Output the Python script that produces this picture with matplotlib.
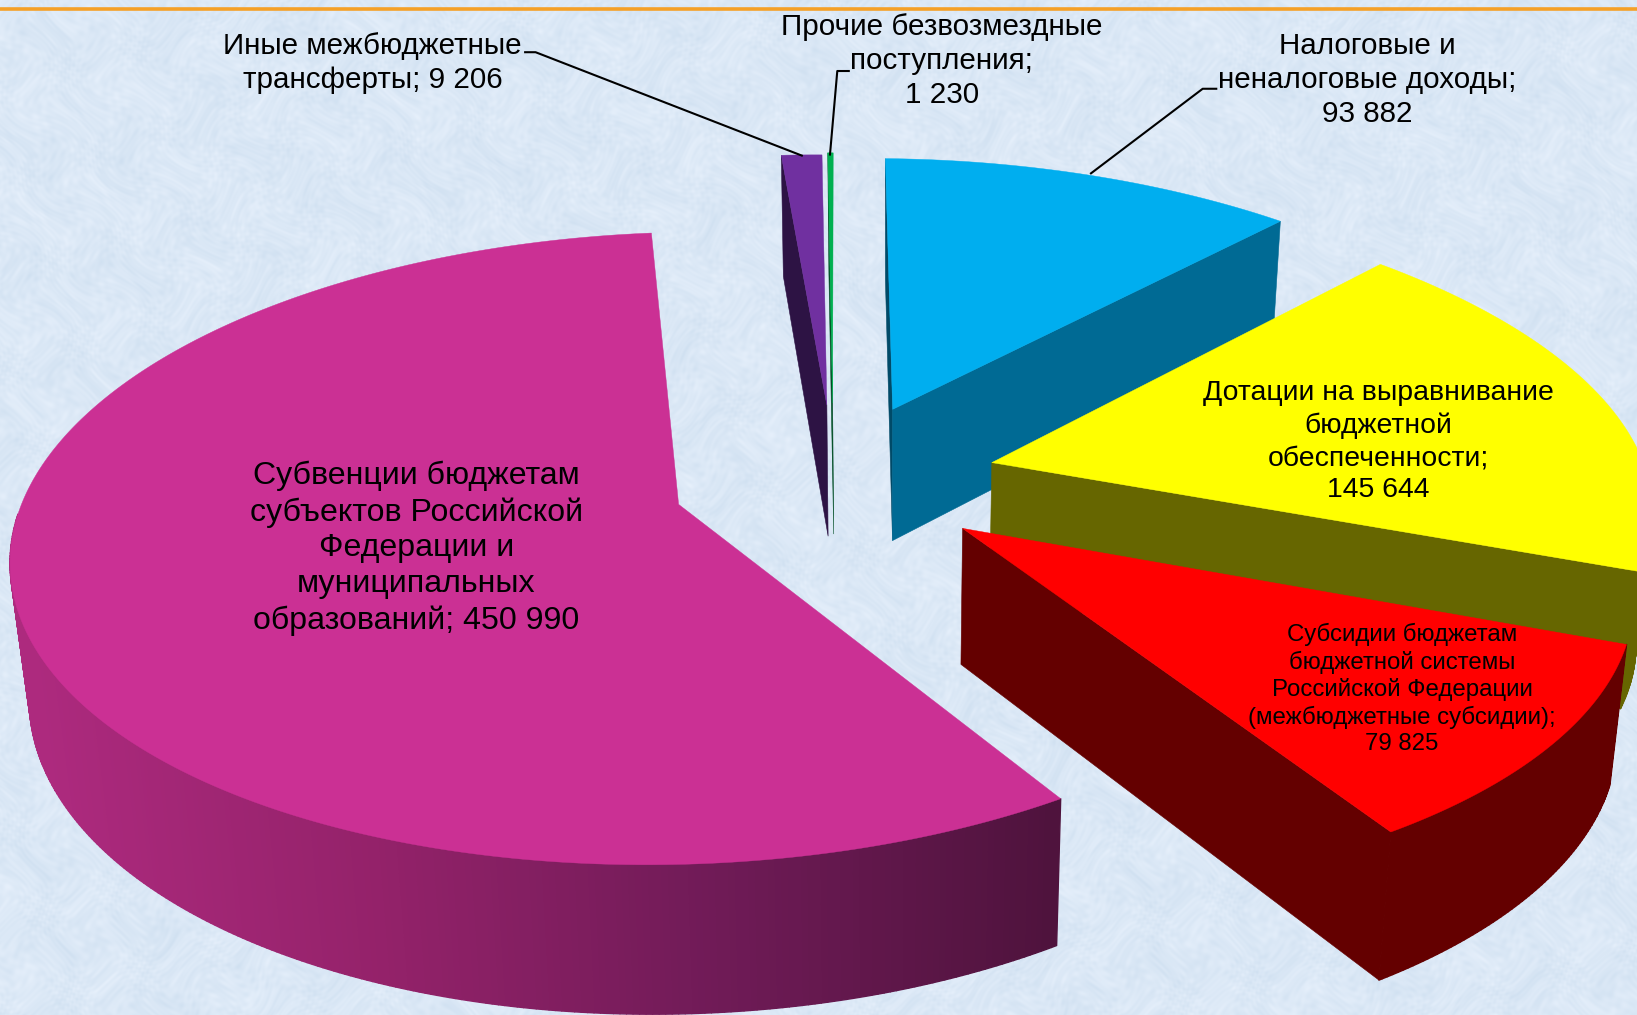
"""3D exploded pie of budget revenue, drawn on a pixel-like canvas."""
import numpy as np
import matplotlib
matplotlib.use("Agg")
import matplotlib.pyplot as plt
from matplotlib.collections import PolyCollection
from matplotlib.colors import LinearSegmentedColormap
from matplotlib.patches import Polygon

plt.rcParams["font.family"] = ["Liberation Sans", "DejaVu Sans"]

# data, clockwise from the top of the pie
categories = ["Налоговые и неналоговые доходы", "Дотации на выравнивание",
              "Субсидии", "Субвенции", "Иные межбюджетные трансферты",
              "Прочие безвозмездные поступления"]
values = [93882, 145644, 79825, 450990, 9206, 1230]
label_texts = [
    "Налоговые и\nненалоговые доходы;\n93 882",
    "Дотации на выравнивание\nбюджетной\nобеспеченности;\n145 644",
    "Субсидии бюджетам\nбюджетной системы\nРоссийской Федерации\n(межбюджетные субсидии);\n79 825",
    "Субвенции бюджетам\nсубъектов Российской\nФедерации и\nмуниципальных\nобразований; 450 990",
    "Иные межбюджетные\nтрансферты; 9 206",
    "Прочие безвозмездные\nпоступления;\n1 230",
]

# layout: canvas is the reference at 1568 wide
W, H = 1568, 972
ROTATION = 1.4
# apex x, apex y, rx, ry, perspective k, x shear, y tilt
GEOM = [
    (855, 392, 635, 293, 0.22, -24, 0),
    (950, 443, 624, 275, 0.042, -78, 0),
    (922, 506, 624, 273, 0.232, -5, 0),
    (650, 483, 633, 297, 0.139, 8, 10),
    (792, 388, 600, 273, 0.139, -14, 0),
    (797.5, 386, 600, 273, 0.139, -14, 0),
]
TOP_COLORS = ["#00aeef", "#ffff00", "#ff0000", "#cb3094", "#7030a0", "#00b050"]
CUT_COLORS = ["#006a94", "#666600", "#640000", "#4f133d", "#2d1344", "#006a30"]
START_COLORS = ["#004a68", "#666600", "#640000", "#4f133d", "#2d1344", "#004d24"]
SHOW_START = [True, False, False, False, True, True]
SHOW_END = [True, True, True, False, False, False]
# x, y, size, line spacing
LABEL_POS = [
    (1310, 76.5, 21.3, 1.27),
    (1320, 423, 20.4, 1.298),
    (1343, 660, 17.3, 1.25),
    (399, 525, 23.1, 1.25),
    (357, 60, 21.3, 1.27),
    (902, 58, 21.3, 1.27),
]
LEADERS = [
    ([1165, 1152, 1045], [85, 85, 166]),
    ([503, 513, 768], [50, 50, 149]),
    ([813, 802, 795], [68, 68, 148]),
]
RIM_CMAP = LinearSegmentedColormap.from_list(
    "rim", ["#ad2a7e", "#94226a", "#701b57", "#4f133d"])


def rim_point(g, theta):
    ax_, ay, rx, ry, k, sk, tilt = g
    u, v = np.sin(theta), np.cos(theta)
    w = 1 + k * v
    return ax_ + (rx * u + sk * v) / w, ay - (ry * v + tilt * u) / w


def lower(x, y):
    # the side walls lean towards a vanishing point below the chart
    d = 110 + 0.04 * np.asarray(y, dtype=float)
    return x - (np.asarray(x, dtype=float) - 850) * d / 6000, y + d


def draw_wedge(ax, g, t0, t1, top, cut, start, show_start, show_end, gradient=False):
    thetas = np.radians(np.arange(t0, t1, 0.5).tolist() + [t1])
    xs, ys = rim_point(g, thetas)
    bx, by = lower(xs, ys)
    apex = (g[0], g[1])
    abx, aby = lower(g[0], g[1])

    if show_start:
        ax.add_patch(Polygon([apex, (xs[0], ys[0]), (bx[0], by[0]), (abx, aby)],
                             closed=True, fc=start, ec=start, lw=0.4))
    if show_end:
        ax.add_patch(Polygon([apex, (xs[-1], ys[-1]), (bx[-1], by[-1]), (abx, aby)],
                             closed=True, fc=cut, ec=cut, lw=0.4))

    # only the near part of the outer wall can be seen
    near = [i for i in range(len(xs) - 1) if np.cos(thetas[i]) < 0.0]
    quads = [[(xs[i], ys[i]), (xs[i + 1], ys[i + 1]), (bx[i + 1], by[i + 1]), (bx[i], by[i])]
             for i in near]
    if quads:
        if gradient:
            cols = [RIM_CMAP(np.clip((q[0][0] - 30) / (1012 - 30), 0, 1)) for q in quads]
        else:
            cols = [cut] * len(quads)
        ax.add_collection(PolyCollection(quads, facecolors=cols, edgecolors=cols, linewidths=1.0))

    pts = [apex] + list(zip(xs, ys))
    ax.add_patch(Polygon(pts, closed=True, fc=top, ec=top, lw=0.3))


def background():
    # soft mottled paper texture, warped so it does not look like a grid
    yy, xx = np.mgrid[0:H, 0:W].astype(float)
    xw = xx + 34 * np.sin(yy * 0.013 + 0.7) + 15 * np.sin(yy * 0.071 + xx * 0.023)
    yw = yy + 30 * np.sin(xx * 0.017 + 2.1) + 13 * np.sin(xx * 0.083 - yy * 0.029)
    t = (0.7 * np.sin(xw * 0.043 + yw * 0.017) * np.sin(yw * 0.051 - xw * 0.011)
         + 0.7 * np.sin(xw * 0.131 + yw * 0.083 + 1.3) * np.sin(yw * 0.149 - xw * 0.067)
         + 0.7 * np.sin(xw * 0.31 - yw * 0.23 + 0.4) * np.sin(yw * 0.37 + xw * 0.19)
         + 0.6 * np.sin(xw * 0.62 + yw * 0.11) * np.sin(yw * 0.57 - xw * 0.13))
    t = t / 2.8
    img = np.zeros(t.shape + (3,))
    for c, (base, amp) in enumerate(((219, 13), (232, 9), (246, 6))):
        img[..., c] = (base + amp * t) / 255
    return np.clip(img, 0, 1)


fig = plt.figure(figsize=(16.37, 10.15), dpi=100)
ax = fig.add_axes([0, 0, 1, 1])
ax.set_xlim(0, W)
ax.set_ylim(H, 0)
ax.axis("off")
ax.imshow(background(), extent=(0, W, H, 0), aspect="auto", zorder=0, interpolation="bilinear")
ax.plot([0, W], [8.9, 8.9], color="#f5a027", lw=2.6, solid_capstyle="butt")

spans = np.cumsum([0] + values) / sum(values) * 360 + ROTATION
for i in (4, 5, 0, 1, 2, 3):
    draw_wedge(ax, GEOM[i], spans[i], spans[i + 1], TOP_COLORS[i], CUT_COLORS[i],
               START_COLORS[i], SHOW_START[i], SHOW_END[i], gradient=i == 3)

for lx, ly in LEADERS:
    ax.plot(lx, ly, color="black", lw=1.5)

for txt, (x, y, size, spacing) in zip(label_texts, LABEL_POS):
    ax.text(x, y, txt, ha="center", va="center", fontsize=size, linespacing=spacing,
            color="black", multialignment="center")

fig.savefig("out.png", dpi=100)
